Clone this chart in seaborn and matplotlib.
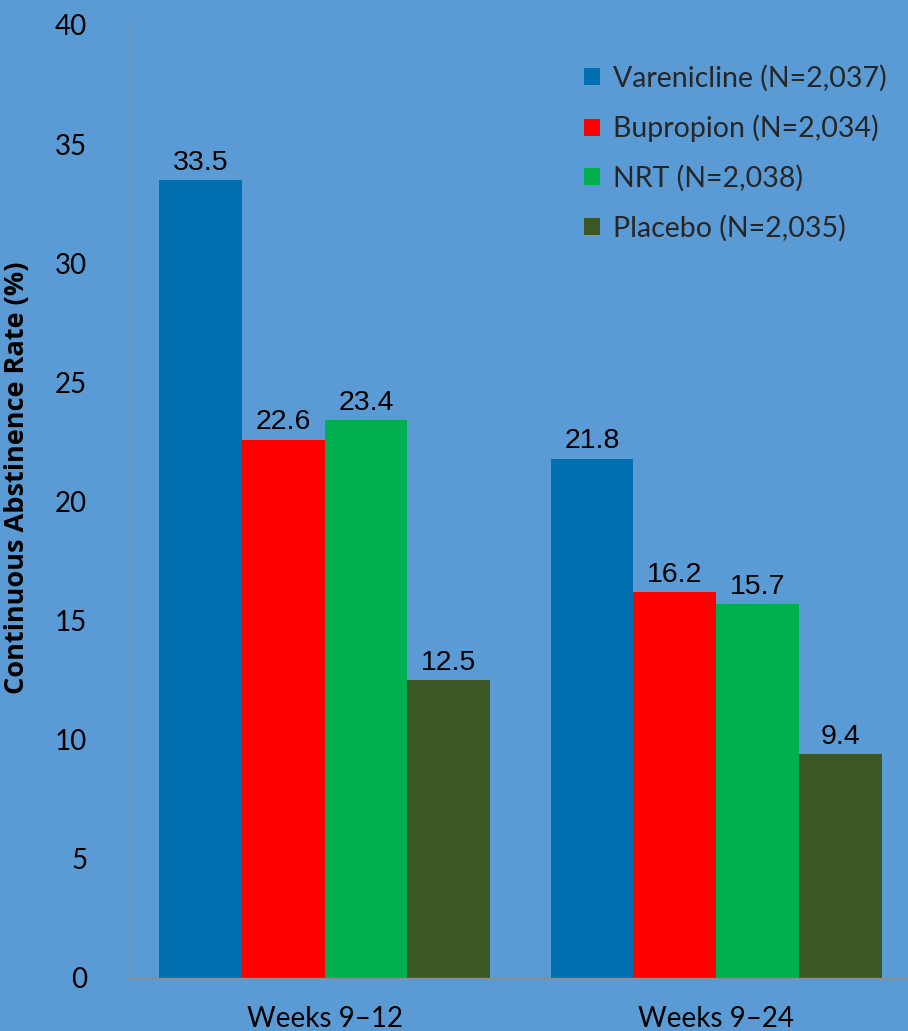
import pandas as pd
import matplotlib.pyplot as plt
import seaborn as sns

# Dados do gráfico
periods = ['Weeks 9–12', 'Weeks 9–24']
treatments = ['Varenicline (N=2,037)', 'Bupropion (N=2,034)', 'NRT (N=2,038)', 'Placebo (N=2,035)']
varenicline = [33.5, 21.8]
bupropion = [22.6, 16.2]
nrt = [23.4, 15.7]
placebo = [12.5, 9.4]
colors = ['#0070B0', '#FF0000', '#00B050', '#3A5724']

rows = []
for name, vals in zip(treatments, [varenicline, bupropion, nrt, placebo]):
    for p, v in zip(periods, vals):
        rows.append({'period': p, 'treatment': name, 'rate': v})
data = pd.DataFrame(rows)

bg = '#5B9BD5'
sns.set_theme(style='white')
plt.rcParams['font.family'] = ['Lato', 'DejaVu Sans']

fig = plt.figure(figsize=(9.08, 10.31), dpi=100, facecolor=bg)
ax = fig.add_axes([129 / 908, 53 / 1031, 779 / 908, 953 / 1031])
ax.set_facecolor(bg)

sns.barplot(data=data, x='period', y='rate', hue='treatment', palette=colors,
            width=0.845, saturation=1, ax=ax, linewidth=0)

# Rótulos das barras
for cont in ax.containers:
    ax.bar_label(cont, fmt='%.1f', padding=3, fontsize=20.5, family='Liberation Sans', color='black')

ax.set_ylim(0, 40)
ax.set_xlim(-0.5, 1.49)
ax.set_yticks(range(0, 41, 5))
ax.tick_params(axis='y', labelsize=20, length=0, pad=30, colors='black')
ax.tick_params(axis='x', labelsize=20, length=0, pad=20, colors='black')
ax.set_xlabel('')
ax.set_ylabel('Continuous Abstinence Rate (%)', fontsize=19.5, fontweight='bold',
              family='Open Sans', color='black')
ax.yaxis.set_label_coords(-0.127, 0.525)

for s in ['top', 'right']:
    ax.spines[s].set_visible(False)
for s in ['left', 'bottom']:
    ax.spines[s].set_color('#8C8C8C')
    ax.spines[s].set_linewidth(1)

leg = ax.legend(loc='upper right', bbox_to_anchor=(1.005, 0.985), frameon=False, fontsize=20.5,
                handlelength=0.55, handleheight=0.55, handletextpad=0.45, labelspacing=0.8)

fig.savefig('out.png', dpi=100, facecolor=bg)
